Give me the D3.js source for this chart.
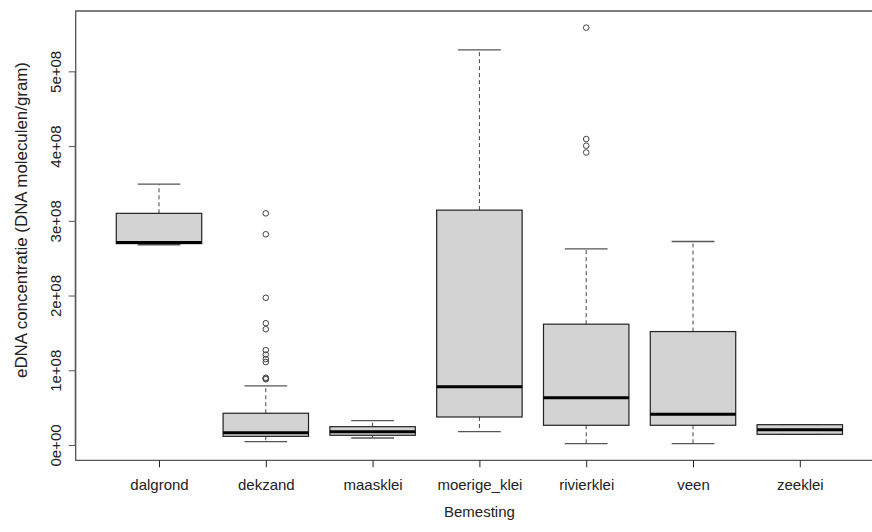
<!DOCTYPE html>
<html>
<head>
<meta charset="utf-8">
<script src="https://cdn.jsdelivr.net/npm/d3@7/dist/d3.min.js"></script>
<style>
  html, body { margin: 0; padding: 0; background: #fff; overflow: hidden; }
  svg { display: block; font-family: Arial, "Liberation Sans", sans-serif; }
</style>
</head>
<body>
<svg id="chart" width="872" height="532"></svg>
<script>
// ---- data ----
const categories  = ["dalgrond", "dekzand", "maasklei", "moerige_klei", "rivierklei", "veen", "zeeklei"];
const whiskerLow  = [2.68e8, 0.044e8, 0.094e8, 0.178e8, 0.018e8, 0.018e8, 0.143e8];
const q1          = [2.695e8, 0.116e8, 0.13e8, 0.375e8, 0.264e8, 0.264e8, 0.143e8];
const medians     = [2.71e8, 0.165e8, 0.178e8, 0.781e8, 0.634e8, 0.411e8, 0.205e8];
const q3          = [3.10e8, 0.425e8, 0.245e8, 3.143e8, 1.617e8, 1.518e8, 0.272e8];
const whiskerHigh = [3.49e8, 0.79e8, 0.326e8, 5.287e8, 2.625e8, 2.723e8, 0.272e8];
const outliers    = [
  [],
  [3.10e8, 2.82e8, 1.97e8, 1.63e8, 1.55e8, 1.27e8, 1.21e8, 1.15e8, 1.11e8, 0.90e8, 0.89e8, 0.88e8],
  [],
  [],
  [5.585e8, 4.094e8, 4.005e8, 3.915e8],
  [],
  []
];
const yTicks = [0, 1e8, 2e8, 3e8, 4e8, 5e8];
const yTickLabels = ["0e+00", "1e+08", "2e+08", "3e+08", "4e+08", "5e+08"];
const xTitle = "Bemesting";
const yTitle = "eDNA concentratie (DNA moleculen/gram)";

// ---- layout ----
const svg = d3.select("#chart");
const plot = { left: 75.7, top: 11, bottom: 460.3 };
const n = categories.length;
const xLo = 0.5 - 0.04 * n, xHi = n + 0.5 + 0.04 * n;
const unit = 106.8;
plot.right = plot.left + (xHi - xLo) * unit;

const allVals = whiskerLow.concat(whiskerHigh, outliers.flat());
const dMin = d3.min(allVals), dMax = d3.max(allVals);
const ext = 0.04 * (dMax - dMin);
const y = d3.scaleLinear().domain([dMin - ext, dMax + ext]).range([plot.bottom, plot.top]);
const x = d3.scaleLinear().domain([xLo, xHi]).range([plot.left, plot.right]);

const boxHalf = 0.4, stapleHalf = 0.2;
const g = svg.append("g");

categories.forEach((c, i) => {
  const cx = x(i + 1);
  const gg = g.append("g");
  // whiskers (dashed)
  gg.append("line").attr("x1", cx).attr("x2", cx).attr("y1", y(q3[i])).attr("y2", y(whiskerHigh[i]))
    .attr("stroke", "#444").attr("stroke-dasharray", "4,3");
  gg.append("line").attr("x1", cx).attr("x2", cx).attr("y1", y(q1[i])).attr("y2", y(whiskerLow[i]))
    .attr("stroke", "#444").attr("stroke-dasharray", "4,3");
  // staples
  [whiskerLow[i], whiskerHigh[i]].forEach(v => {
    gg.append("line").attr("x1", x(i + 1 - stapleHalf)).attr("x2", x(i + 1 + stapleHalf))
      .attr("y1", y(v)).attr("y2", y(v)).attr("stroke", "#555").attr("stroke-width", 1.3);
  });
  // box
  gg.append("rect").attr("x", x(i + 1 - boxHalf)).attr("width", x(i + 1 + boxHalf) - x(i + 1 - boxHalf))
    .attr("y", y(q3[i])).attr("height", Math.max(0.5, y(q1[i]) - y(q3[i])))
    .attr("fill", "#d3d3d3").attr("stroke", "#222").attr("stroke-width", 1.2);
  // median
  gg.append("line").attr("x1", x(i + 1 - boxHalf)).attr("x2", x(i + 1 + boxHalf))
    .attr("y1", y(medians[i])).attr("y2", y(medians[i])).attr("stroke", "#000").attr("stroke-width", 3);
  // outliers
  outliers[i].forEach(v => {
    gg.append("circle").attr("cx", cx).attr("cy", y(v)).attr("r", 2.8)
      .attr("fill", "none").attr("stroke", "#444").attr("stroke-width", 1);
  });
});

// frame (right side falls outside the visible area)
svg.append("path")
  .attr("d", `M${plot.right},${plot.top}H${plot.left}V${plot.bottom}H${plot.right}`)
  .attr("fill", "none").attr("stroke", "#555").attr("stroke-width", 1.3);

// x axis
const xAxis = d3.axisBottom(x).tickValues(d3.range(1, n + 1)).tickSize(7).tickPadding(12)
  .tickFormat((d) => categories[d - 1]);
const gx = svg.append("g").attr("transform", `translate(0,${plot.bottom})`).call(xAxis);
gx.select(".domain").remove();
gx.selectAll(".tick line").attr("stroke", "#222");
gx.selectAll(".tick text").attr("font-size", 15).attr("fill", "#222").attr("dy", "0.71em");

// y axis
const yAxis = d3.axisLeft(y).tickValues(yTicks).tickSize(7).tickPadding(0)
  .tickFormat((d, i) => yTickLabels[i]);
const gy = svg.append("g").attr("transform", `translate(${plot.left},0)`).call(yAxis);
gy.select(".domain").attr("stroke", "#555").attr("d", `M-0.5,${y(yTicks[0])}V${y(yTicks[yTicks.length - 1])}`);
gy.selectAll(".tick line").attr("stroke", "#555");
gy.selectAll(".tick text").attr("font-size", 15).attr("fill", "#222")
  .attr("text-anchor", "middle").attr("dy", null).attr("x", null)
  .attr("transform", "translate(-15,0) rotate(-90)");

// titles
svg.append("text").attr("x", (plot.left + plot.right) / 2).attr("y", 517)
  .attr("text-anchor", "middle").attr("font-size", 15).attr("fill", "#222").text(xTitle);
svg.append("text").attr("transform", `translate(27,220) rotate(-90)`)
  .attr("text-anchor", "middle").attr("font-size", 16).attr("fill", "#222")
  .attr("textLength", 316).attr("lengthAdjust", "spacingAndGlyphs").text(yTitle);
</script>
</body>
</html>
